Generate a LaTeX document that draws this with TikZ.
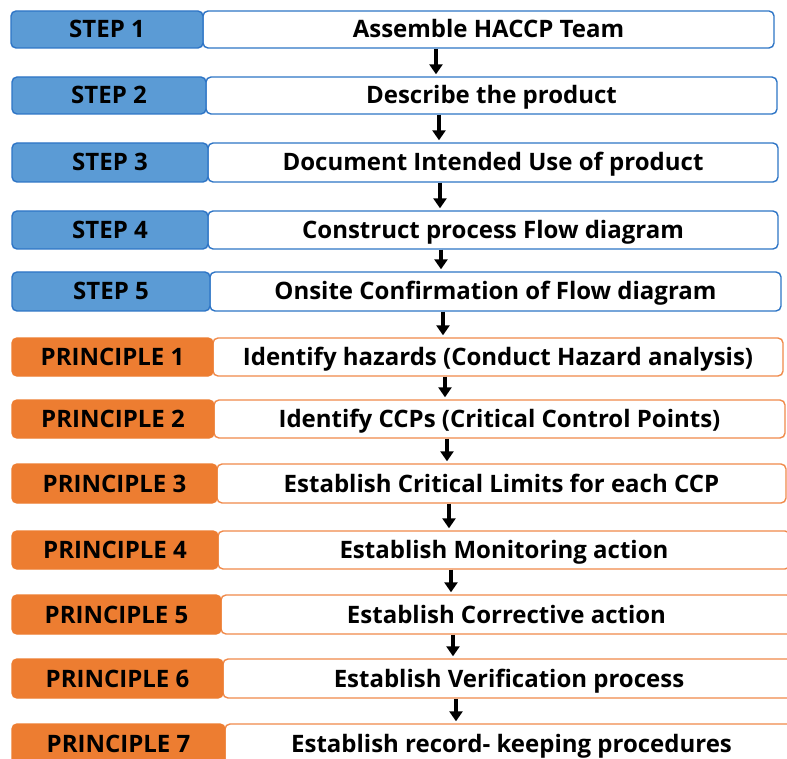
\documentclass[tikz,border=0pt]{standalone}
\usepackage{fontspec}
\setmainfont{Open Sans}
\usetikzlibrary{arrows.meta}
\definecolor{bfill}{HTML}{5B9BD5}
\definecolor{bline}{HTML}{2E75C6}
\definecolor{ofill}{HTML}{ED7D31}
\definecolor{oline}{HTML}{F08A4B}
\tikzset{
  base/.style={rounded corners=5pt, line width=1.4pt, inner sep=0pt, text height=17pt, text depth=0pt, font=\fontsize{24}{28}\selectfont\bfseries, text=black},
  stepbox/.style={base, fill=bfill, draw=bline},
  stepbody/.style={base, fill=white, draw=bline},
  princbox/.style={base, fill=ofill, draw=ofill},
  princbody/.style={base, fill=white, draw=oline},
  arr/.style={line width=3.2pt, -{Triangle[width=13pt,length=10pt]}}
}
\begin{document}
\begin{tikzpicture}[x=1pt,y=-1pt]
\clip (0,0) rectangle (787,759);
\fill[white] (0,0) rectangle (787,759);
\foreach \n/\xl/\xm/\xr/\yt/\yb/\kind/\lab/\txt in {
  1/11/203/774/11/48/step/{STEP 1}/{Assemble HACCP Team},
  2/12/206/777/77/114/step/{STEP 2}/{Describe the product},
  3/12/208/778/143/182/step/{STEP 3}/{Document Intended Use of product},
  4/12/208/778/211/249/step/{STEP 4}/{Construct process Flow diagram},
  5/12/210/781/272/311/step/{STEP 5}/{Onsite Confirmation of Flow diagram},
  6/12/213/783/338/376/princ/{PRINCIPLE 1}/{Identify hazards (Conduct Hazard analysis)},
  7/12/214/785/400/438/princ/{PRINCIPLE 2}/{Identify CCPs (Critical Control Points)},
  8/12/217/786/464/503/princ/{PRINCIPLE 3}/{Establish Critical Limits for each CCP},
  9/12/218/790/531/569/princ/{PRINCIPLE 4}/{Establish Monitoring action},
  10/12/221/792/595/634/princ/{PRINCIPLE 5}/{Establish Corrective action},
  11/12/223/795/659/698/princ/{PRINCIPLE 6}/{Establish Verification process},
  12/12/225/798/724/764/princ/{PRINCIPLE 7}/{Establish record- keeping procedures}}
{
  \node[\kind body, minimum width={(\xr-\xm)*1pt}, minimum height={(\yb-\yt)*1pt}]
    (R\n) at ({(\xm+\xr)/2},{(\yt+\yb)/2}) {\txt};
  \node[\kind box, minimum width={(\xm-\xl)*1pt}, minimum height={(\yb-\yt)*1pt}]
    (L\n) at ({(\xl+\xm)/2},{(\yt+\yb)/2}) {\lab};
}
\foreach \a/\b/\x in {1/2/436, 2/3/439, 3/4/440, 4/5/441, 5/6/443, 6/7/445,
                      7/8/447, 8/9/449, 9/10/451, 10/11/453, 11/12/456}
{
  \coordinate (ax\a) at (\x,0);
  \draw[arr] (R\a.south -| ax\a) -- ([yshift=2pt]R\b.north -| ax\a);
}
\end{tikzpicture}
\end{document}
